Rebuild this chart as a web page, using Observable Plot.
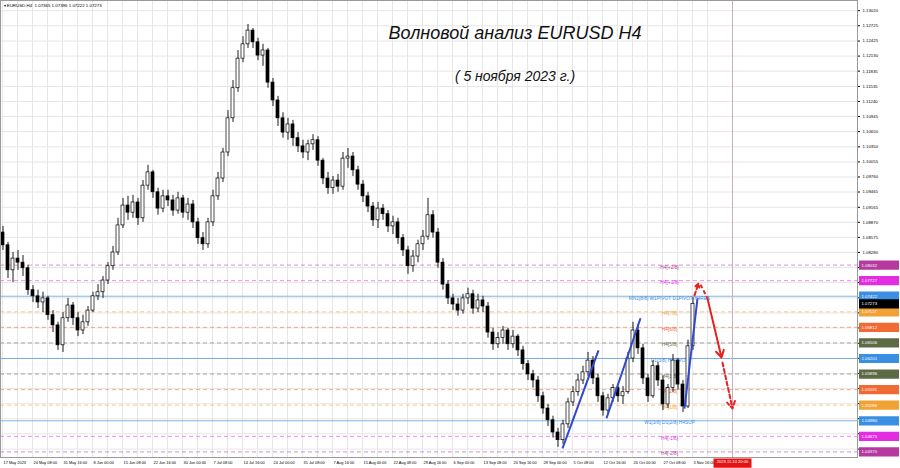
<!DOCTYPE html>
<html><head><meta charset="utf-8">
<script src="https://cdn.jsdelivr.net/npm/d3@7"></script>
<script src="https://cdn.jsdelivr.net/npm/@observablehq/plot@0.6"></script>
<style>body{margin:0;background:#fff}</style>
</head><body><div id="chart"></div>
<script>
// ---- data (EURUSD H4, each candle here groups 5 H4 bars) ----
const openP = [
1.0867,1.0842,1.0793,1.0816,1.0808,1.0797,1.0754,1.0742,1.0730,1.0738,
1.0705,1.0685,1.0646,1.0699,1.0724,1.0699,1.0675,1.0691,1.0714,1.0742,
1.0750,1.0773,1.0801,1.0828,1.0881,1.0920,1.0906,1.0926,1.0895,1.0959,
1.0985,1.0946,1.0914,1.0938,1.0930,1.0910,1.0934,1.0906,1.0922,1.0887,
1.0856,1.0844,1.0887,1.0938,1.0973,1.1024,1.1091,1.1150,1.1208,1.1236,
1.1263,1.1240,1.1214,1.1224,1.1161,1.1126,1.1091,1.1063,1.1079,1.1052,
1.1036,1.1024,1.1040,1.1048,1.1008,1.0973,1.0954,1.0969,1.0957,1.1012,
1.1016,1.0989,1.0961,1.0938,1.0918,1.0891,1.0914,1.0903,1.0879,1.0887,
1.0856,1.0832,1.0801,1.0820,1.0844,1.0859,1.0901,1.0867,1.0808,1.0765,
1.0738,1.0726,1.0714,1.0738,1.0746,1.0718,1.0734,1.0722,1.0671,1.0648,
1.0660,1.0675,1.0648,1.0663,1.0636,1.0609,1.0589,1.0577,1.0546,1.0522,
1.0499,1.0475,1.0460,1.0491,1.0534,1.0554,1.0577,1.0593,1.0616,1.0581,
1.0546,1.0518,1.0542,1.0562,1.0546,1.0554,1.0620,1.0675,1.0640,1.0581,
1.0546,1.0605,1.0577,1.0530,1.0562,1.0616,1.0569,1.0526,1.0644];
const highP = [
1.0879,1.0848,1.0828,1.0832,1.0822,1.0803,1.0763,1.0754,1.0750,1.0742,
1.0714,1.0691,1.0710,1.0738,1.0730,1.0710,1.0705,1.0722,1.0750,1.0765,
1.0781,1.0808,1.0840,1.0895,1.0934,1.0938,1.0940,1.0934,1.0969,1.0999,
1.0989,1.0954,1.0950,1.0950,1.0940,1.0946,1.0940,1.0934,1.0930,1.0895,
1.0867,1.0895,1.0950,1.0985,1.1032,1.1106,1.1165,1.1224,1.1251,1.1275,
1.1267,1.1248,1.1236,1.1228,1.1169,1.1134,1.1102,1.1091,1.1087,1.1063,
1.1048,1.1048,1.1059,1.1055,1.1012,1.0985,1.0977,1.0981,1.1024,1.1032,
1.1024,1.0997,1.0969,1.0946,1.0926,1.0926,1.0922,1.0910,1.0899,1.0895,
1.0863,1.0840,1.0832,1.0852,1.0871,1.0934,1.0910,1.0875,1.0816,1.0773,
1.0746,1.0738,1.0746,1.0758,1.0754,1.0746,1.0742,1.0730,1.0679,1.0671,
1.0683,1.0679,1.0675,1.0667,1.0644,1.0616,1.0597,1.0585,1.0554,1.0530,
1.0507,1.0483,1.0499,1.0542,1.0565,1.0589,1.0605,1.0632,1.0624,1.0589,
1.0554,1.0550,1.0569,1.0569,1.0565,1.0632,1.0691,1.0687,1.0648,1.0589,
1.0616,1.0612,1.0585,1.0569,1.0628,1.0620,1.0577,1.0656,1.07396];
const lowP = [
1.0832,1.0777,1.0769,1.0793,1.0781,1.0744,1.0730,1.0718,1.0710,1.0695,
1.0671,1.0636,1.0632,1.0691,1.0685,1.0663,1.0667,1.0683,1.0710,1.0734,
1.0738,1.0765,1.0793,1.0822,1.0875,1.0891,1.0895,1.0881,1.0887,1.0950,
1.0934,1.0901,1.0906,1.0918,1.0899,1.0903,1.0895,1.0891,1.0875,1.0844,
1.0832,1.0836,1.0879,1.0930,1.0965,1.1016,1.1083,1.1142,1.1200,1.1228,
1.1228,1.1204,1.1193,1.1150,1.1114,1.1075,1.1052,1.1048,1.1036,1.1024,
1.1012,1.1008,1.1028,1.0997,1.0961,1.0942,1.0942,1.0946,1.0950,1.0993,
1.0977,1.0950,1.0926,1.0906,1.0879,1.0875,1.0891,1.0867,1.0863,1.0844,
1.0820,1.0785,1.0789,1.0808,1.0832,1.0852,1.0856,1.0797,1.0754,1.0726,
1.0714,1.0703,1.0707,1.0726,1.0707,1.0710,1.0710,1.0660,1.0636,1.0640,
1.0648,1.0636,1.0640,1.0624,1.0597,1.0577,1.0562,1.0534,1.0511,1.0487,
1.0464,1.0446,1.0452,1.0483,1.0526,1.0546,1.0569,1.0585,1.0569,1.0534,
1.0507,1.0511,1.0534,1.0534,1.0530,1.0550,1.0612,1.0628,1.0569,1.0534,
1.0542,1.0565,1.0518,1.0522,1.0554,1.0558,1.0514,1.0522,1.0636];
const closeP = [
1.0842,1.0793,1.0816,1.0808,1.0797,1.0754,1.0742,1.0730,1.0738,1.0705,
1.0685,1.0646,1.0699,1.0724,1.0699,1.0675,1.0691,1.0714,1.0742,1.0750,
1.0773,1.0801,1.0828,1.0881,1.0920,1.0906,1.0926,1.0895,1.0959,1.0985,
1.0946,1.0914,1.0938,1.0930,1.0910,1.0934,1.0906,1.0922,1.0887,1.0856,
1.0844,1.0887,1.0938,1.0973,1.1024,1.1091,1.1150,1.1208,1.1236,1.1263,
1.1240,1.1214,1.1224,1.1161,1.1126,1.1091,1.1063,1.1079,1.1052,1.1036,
1.1024,1.1040,1.1048,1.1008,1.0973,1.0954,1.0969,1.0957,1.1012,1.1016,
1.0989,1.0961,1.0938,1.0918,1.0891,1.0914,1.0903,1.0879,1.0887,1.0856,
1.0832,1.0801,1.0820,1.0844,1.0859,1.0901,1.0867,1.0808,1.0765,1.0738,
1.0726,1.0714,1.0738,1.0746,1.0718,1.0734,1.0722,1.0671,1.0648,1.0660,
1.0675,1.0648,1.0663,1.0636,1.0609,1.0589,1.0577,1.0546,1.0522,1.0499,
1.0475,1.0460,1.0491,1.0534,1.0554,1.0577,1.0593,1.0616,1.0581,1.0546,
1.0518,1.0542,1.0562,1.0546,1.0554,1.0620,1.0675,1.0640,1.0581,1.0546,
1.0605,1.0577,1.0530,1.0562,1.0616,1.0569,1.0526,1.0644,1.07273];

const yTicks = [1.13020,1.12725,1.12425,1.12130,1.11835,1.11535,1.11240,1.10945,1.10650,1.10350,
  1.10055,1.09760,1.09465,1.09165,1.08870,1.08575,1.08280,1.07985,1.07690,1.07390,
  1.07095,1.06800,1.06500,1.06205,1.05910,1.05610,1.05315,1.05020,1.04725,1.04425];

const timeLabels = ["17 May 2023","24 May 08:00","31 May 16:00","8 Jun 00:00","15 Jun 08:00","22 Jun 16:00",
  "30 Jun 00:00","7 Jul 08:00","14 Jul 16:00","24 Jul 00:00","31 Jul 08:00","7 Aug 16:00","15 Aug 00:00",
  "22 Aug 08:00","29 Aug 16:00","6 Sep 00:00","13 Sep 08:00","20 Sep 16:00","28 Sep 00:00","5 Oct 08:00",
  "12 Oct 16:00","20 Oct 00:00","27 Oct 08:00","3 Nov 16:00"];
const timeTickBars = [2,32,62,92,122,152,182,212,242,272,302,332,362,392,422,452,482,512,542,572,602,632,662,692];

const levelPrices = [1.08032,1.07727,1.07422,1.07117,1.06812,1.06506,1.06201,1.05896,1.05591,1.05286,1.04980,1.04675,1.04370];
const levelNames = ["H4[+2/8]","H4[+1/8]","MN1[8/8] W1PIVOT D1PIVOT H4RES","H4[7/8]","H4[6/8]","H4[5/8]",
  "D1[3/8] H4PIVOT","H4[3/8]","H4[2/8]","H4[1/8]","W1[3/8] D1[2/8] H4SUP","H4[-1/8]","H4[-2/8]"];
const levelColors = ["#b5399f","#e22de2","#3b8fe3","#f2a234","#f06a33","#5d6b45","#3b8fe3","#5d6b45",
  "#f06a33","#f2a234","#3b8fe3","#e22de2","#b5399f"];
const levelSolid = [false,false,true,false,false,false,true,false,false,false,true,false,false];
const labelBar = 669;

const currentPrice = 1.07273;
const headerText = "\u25BE EURUSD,H4  1.07365 1.07396 1.07222 1.07273";
const titleText = "Волновой анализ EURUSD H4";
const subtitleText = "( 5 ноября 2023 г.)";
const forecastBar = 732;
const forecastLabel = "2023.11.10 20:00";

// wave lines [bar1, price1, bar2, price2]
const blueWaves = [[562,1.0444,598,1.0636],[606,1.0503,640,1.0699],[684,1.0522,697,1.0738]];
const redArrowsDashed = [[694,1.0744,698,1.0767],[722,1.0612,732,1.0522]];
const redLinkDashed = [[700,1.0765,707,1.0738]];
const redArrowsSolid = [[707,1.0738,721,1.0622]];

// ---- build ----
const slotBars = 5;
const candles = closeP.map((c, i) => ({
  xm: i * slotBars + 2.5, x1: i * slotBars + 1, x2: i * slotBars + 4,
  o: openP[i], h: highP[i], l: lowP[i], c, up: c >= openP[i]
}));
const levels = levelPrices.map((p, i) => ({price: p, name: levelNames[i], color: levelColors[i], solid: levelSolid[i]}));
const badgePrices = levelPrices.concat([currentPrice]);
// tick labels hidden where a price badge covers them (as the terminal does)
const tickLabel = d => badgePrices.some(p => Math.abs(p - d) < 0.0011) ? "" : d.toFixed(5);
const gridBars = timeTickBars.flatMap(b => [b, b + 15]);
const seg = a => a.map(([b1, p1, b2, p2]) => ({b1, p1, b2, p2}));
const badgeSym = {draw(ctx) { ctx.rect(-20, -4.6, 40, 9.2); }};
const timeBadgeSym = {draw(ctx) { ctx.rect(-19, -4.6, 38, 9.2); }};

const chart = Plot.plot({
  width: 900, height: 468,
  marginLeft: 0, marginRight: 43, marginTop: 0, marginBottom: 11,
  style: {fontFamily: "'Liberation Sans', Arial, sans-serif", fontSize: "4.3px", background: "#fff", color: "#000", overflow: "visible"},
  x: {domain: [0, 857], axis: null},
  y: {domain: [1.0426, 1.1322], axis: "right", ticks: yTicks, tickFormat: tickLabel, tickSize: 2, tickPadding: 3, label: null},
  marks: [
    Plot.ruleY(yTicks, {stroke: "#e6e6e6"}),
    Plot.ruleX(gridBars, {stroke: "#e6e6e6"}),
    Plot.ruleY(levels.filter(d => !d.solid), {y: "price", stroke: "color", strokeOpacity: 0.55, strokeDasharray: "4,3"}),
    Plot.ruleY(levels.filter(d => d.solid), {y: "price", stroke: "color", strokeOpacity: 0.65}),
    Plot.ruleX([forecastBar], {stroke: "#c7b0c2"}),
    Plot.text(levels, {x: labelBar, y: "price", text: "name", fill: "color", fontSize: 4.8, dy: 2}),
    Plot.ruleX(candles, {x: "xm", y1: "l", y2: "h", stroke: "#1a1a1a", strokeWidth: 1}),
    Plot.rect(candles, {x1: "x1", x2: "x2", y1: "o", y2: "c", fill: d => d.up ? "#fff" : "#000", stroke: "#000", strokeWidth: 0.7}),
    Plot.link(seg(blueWaves), {x1: "b1", y1: "p1", x2: "b2", y2: "p2", stroke: "#3048cc", strokeWidth: 2}),
    Plot.arrow(seg(redArrowsDashed), {x1: "b1", y1: "p1", x2: "b2", y2: "p2", stroke: "#e32222", strokeWidth: 2, strokeDasharray: "4,2.5", headLength: 6}),
    Plot.link(seg(redLinkDashed), {x1: "b1", y1: "p1", x2: "b2", y2: "p2", stroke: "#e32222", strokeWidth: 2, strokeDasharray: "4,2.5"}),
    Plot.arrow(seg(redArrowsSolid), {x1: "b1", y1: "p1", x2: "b2", y2: "p2", stroke: "#e32222", strokeWidth: 2, headLength: 6}),
    Plot.frame({stroke: "#9a9a9a"}),
    Plot.dot(levels, {y: "price", frameAnchor: "right", dx: 21.5, symbol: badgeSym, fill: "color", stroke: null}),
    Plot.text(levels, {y: "price", text: d => d.price.toFixed(5), frameAnchor: "right", dx: 4, textAnchor: "start", fill: "#fff", fontSize: 4.3}),
    Plot.dot([currentPrice], {y: d => d, frameAnchor: "right", dx: 21.5, symbol: badgeSym, fill: "#000", stroke: null}),
    Plot.text([currentPrice], {y: d => d, text: d => d.toFixed(5), frameAnchor: "right", dx: 4, textAnchor: "start", fill: "#fff", fontSize: 4.3}),
    Plot.text(timeLabels.map((t, k) => ({t, b: timeTickBars[k]})), {x: "b", text: "t", frameAnchor: "bottom", dy: 6, dx: 1, textAnchor: "start", fill: "#000", fontSize: 3.9}),
    Plot.dot([forecastBar], {x: d => d, frameAnchor: "bottom", dy: 5.6, symbol: timeBadgeSym, fill: "#e41414", stroke: null}),
    Plot.text([forecastBar], {x: d => d, text: () => forecastLabel, frameAnchor: "bottom", dy: 5.8, fill: "#fff", fontSize: 4.1}),
    Plot.text([headerText], {frameAnchor: "top-left", dx: 3, dy: 3, textAnchor: "start", fontSize: 4.4, fill: "#000"}),
    Plot.text([titleText], {frameAnchor: "top", dx: 86, dy: 26, fontSize: 18, fontStyle: "italic", fill: "#111"}),
    Plot.text([subtitleText], {frameAnchor: "top", dx: 86, dy: 71, fontSize: 14, fontStyle: "italic", fill: "#111"})
  ]
});
document.getElementById("chart").appendChild(chart);
</script>
</body></html>
